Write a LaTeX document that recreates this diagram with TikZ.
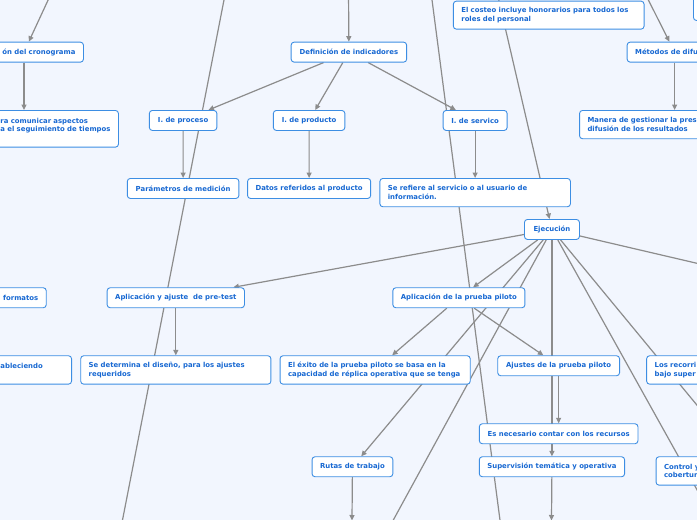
\documentclass[tikz,border=0pt]{standalone}
\usepackage{fontspec}
\setmainfont{DejaVu Sans}
\usetikzlibrary{arrows.meta}
\pgfdeclarelayer{bg}
\pgfdeclarelayer{edges}
\pgfsetlayers{bg,edges,main}
\definecolor{bgc}{HTML}{F2F6FE}
\definecolor{txt}{HTML}{1768D2}
\definecolor{brd}{HTML}{3D8EE3}
\definecolor{lnc}{HTML}{8C8C8C}
\newcommand\lns[1]{\mbox{#1}}
\begin{document}
\begin{tikzpicture}[x=1pt,y=-1pt,
  mbox/.style={draw=brd, fill=white, line width=0.9pt, rounded corners=3pt, text=txt,
    font=\fontsize{6.9}{8.4}\selectfont\bfseries, align=left, inner xsep=8pt, inner ysep=2pt,
    anchor=north west, minimum height=20pt},
  one/.style={mbox, align=center},
  conn/.style={draw=lnc, line width=1.2pt, -{Triangle[length=5.5pt,width=5pt]}},
  plain/.style={draw=lnc, line width=1.2pt}]
\useasboundingbox (0,0) rectangle (697,520);
\begin{pgfonlayer}{bg}
  \fill[bgc] (0,0) rectangle (697,520);
\end{pgfonlayer}

% nodes
\node[mbox, align=right, text width=103pt] (cron) at (-36,41.7) {\lns{ón del cronograma}};
\node[mbox, text width=173pt, minimum height=36.7pt] (comunicar) at (-71,110)
  {\lns{\hspace*{63pt}ra comunicar aspectos}\\\lns{\hspace*{63pt}a el seguimiento de tiempos}\\~};
\node[one, minimum width=115.5pt] (def) at (290.7,41.7) {Definición de indicadores};
\node[one, minimum width=67.5pt] (proc) at (148.9,110) {I. de proceso};
\node[one, minimum width=71.5pt] (prod) at (272.9,110) {I. de producto};
\node[one, minimum width=64pt] (serv) at (442.7,110) {I. de servico};
\node[one, minimum width=111.6pt] (param) at (126.85,178) {Parámetros de medición};
\node[one, minimum width=123.1pt] (datos) at (247.1,178) {Datos referidos al producto};
\node[mbox, text width=174.6pt, minimum height=28.3pt] (refiere) at (379.4,178)
  {\lns{Se refiere al servicio o al usuario de}\\\lns{información.}};
\node[mbox, text width=174.7pt, minimum height=28pt] (costeo) at (452.9,0.7)
  {\lns{El costeo incluye honorarios para todos los}\\\lns{roles del personal}};
\node[mbox, text width=79pt] (metodos) at (626.7,41.7) {\lns{Métodos de difu}};
\node[mbox, text width=174.2pt, minimum height=28.3pt] (manera) at (579.1,110)
  {\lns{Manera de gestionar la pres}\\\lns{difusión de los resultados}};
\node[mbox, minimum width=60pt, minimum height=30pt] (tr) at (693,-10) {};
\node[one, minimum width=55pt] (ejec) at (524,219) {Ejecución};
\node[mbox, align=right, text width=69.8pt] (formatos) at (-40,287.3) {\lns{formatos}};
\node[one, minimum width=137.3pt] (pretest) at (106.7,287.3) {Aplicación y ajuste\ \ de pre-test};
\node[one, minimum width=132pt] (piloto) at (392.4,287.3) {Aplicación de la prueba piloto};
\node[mbox, text width=105.1pt, minimum height=28.4pt] (ablec) at (-50,355.3)
  {\lns{\hspace*{42pt}ableciendo}\\~};
\node[mbox, text width=174.2pt, minimum height=28.4pt] (determina) at (80.25,355.3)
  {\lns{Se determina el diseño, para los ajustes}\\\lns{requeridos}};
\node[mbox, text width=174.2pt, minimum height=28.4pt] (exito) at (279.6,355.3)
  {\lns{El éxito de la prueba piloto se basa en la}\\\lns{capacidad de réplica operativa que se tenga}};
\node[one, minimum width=121.8pt] (ajustes) at (497.3,355.3) {Ajustes de la prueba piloto};
\node[mbox, text width=104pt, minimum height=28.4pt] (recorri) at (646.2,355.3)
  {\lns{Los recorri}\\\lns{bajo super}};
\node[one, minimum width=158.6pt] (necesario) at (478.9,423.3) {Es necesario contar con los recursos};
\node[one, minimum width=80.8pt] (rutas) at (311.6,456.3) {Rutas de trabajo};
\node[one, minimum width=145.3pt] (superv) at (478.85,456.3) {Supervisión temática y operativa};
\node[mbox, text width=104pt, minimum height=28.4pt] (control) at (655.6,456.3)
  {\lns{Control y}\\\lns{cobertur}};

% free ends
\coordinate (t1) at (57.4,-20);
\coordinate (t2) at (348.45,-20);
\coordinate (t3) at (489.5,-40);
\coordinate (t4) at (638.3,-20);
\coordinate (la1) at (231.8,-40);
\coordinate (la2) at (114.7,560);
\coordinate (lb1) at (426.8,-40);
\coordinate (lb2) at (505.2,560);
\coordinate (eb) at (382.4,540);
\coordinate (ee) at (725,540);
\coordinate (ef) at (734,450);
\coordinate (eg) at (760,278);
\coordinate (sb) at (551.5,520.5);
\coordinate (rb) at (352,520.5);

\begin{pgfonlayer}{edges}
  \draw[conn] (t1) -- (cron);
  \draw[conn] (cron) -- (comunicar);
  \draw[plain] (la1) -- (la2);
  \draw[plain] (lb1) -- (lb2);
  \draw[conn] (t2) -- (def);
  \draw[conn] (def) -- (proc);
  \draw[conn] (def) -- (prod);
  \draw[conn] (def) -- (serv);
  \draw[conn] (proc) -- (param);
  \draw[conn] (prod) -- (datos);
  \draw[conn] (serv) -- (refiere);
  \draw[conn] (t3) -- (ejec);
  \draw[conn] (t4) -- (metodos);
  \draw[conn] (metodos) -- (manera);
  \draw[conn] (ejec) -- (pretest);
  \draw[conn] (ejec) -- (piloto);
  \draw[conn] (ejec) -- (rutas);
  \draw[conn] (ejec) -- (superv);
  \draw[conn] (ejec) -- (eb);
  \draw[conn] (ejec) -- (ee);
  \draw[conn] (ejec) -- (ef);
  \draw[conn] (ejec) -- (eg);
  \draw[conn] (pretest) -- (determina);
  \draw[conn] (piloto) -- (exito);
  \draw[conn] (piloto) -- (ajustes);
  \draw[conn] (ajustes) -- (necesario);
  \draw[conn] (superv) -- (sb);
  \draw[conn] (rutas) -- (rb);
\end{pgfonlayer}
\end{tikzpicture}
\end{document}
